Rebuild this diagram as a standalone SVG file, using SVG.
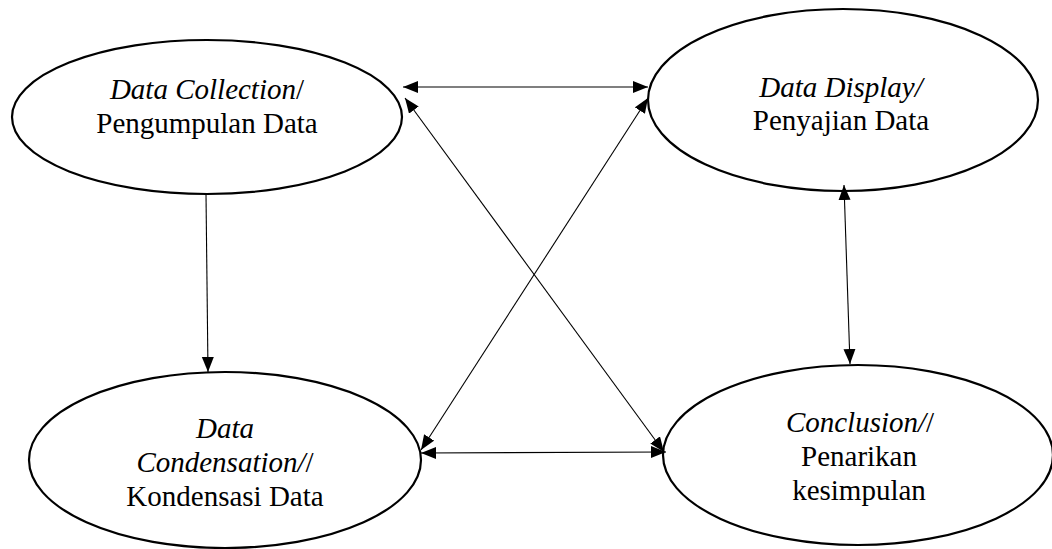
<svg xmlns="http://www.w3.org/2000/svg" width="1052" height="549" viewBox="0 0 1052 549">
<style>
.node{fill:#fff;stroke:#000;stroke-width:2.2}
.t{font-family:'Liberation Serif','Times New Roman','DejaVu Serif',serif;font-size:29px;fill:#000;text-anchor:middle}
.i{font-style:italic}
.c{stroke:#000;stroke-width:1.1;fill:none}
</style>
<defs>
<marker id="ah" markerUnits="userSpaceOnUse" markerWidth="16" markerHeight="13" refX="15" refY="6" orient="auto-start-reverse">
<path d="M0,0 L15,6 L0,12 z" fill="#000"/>
</marker>
</defs>
<g id="n-collection">
<ellipse class="node" cx="207" cy="117" rx="195" ry="77"/>
<text class="t" font-family="Liberation Serif, serif" x="207" y="99"><tspan class="i">Data Collection</tspan>/</text>
<text class="t" font-family="Liberation Serif, serif" x="207" y="133">Pengumpulan Data</text>
</g>
<g id="n-display">
<ellipse class="node" cx="843" cy="100" rx="195" ry="91"/>
<text class="t i" font-family="Liberation Serif, serif" x="841" y="97">Data Display/</text>
<text class="t" font-family="Liberation Serif, serif" x="841" y="130">Penyajian Data</text>
</g>
<g id="n-condensation">
<ellipse class="node" cx="225" cy="460" rx="196" ry="88"/>
<text class="t i" font-family="Liberation Serif, serif" x="225" y="438">Data</text>
<text class="t" font-family="Liberation Serif, serif" x="225" y="472"><tspan class="i">Condensation/</tspan>/</text>
<text class="t" font-family="Liberation Serif, serif" x="225" y="506">Kondensasi Data</text>
</g>
<g id="n-conclusion">
<ellipse class="node" cx="858" cy="455" rx="195" ry="90"/>
<text class="t" font-family="Liberation Serif, serif" x="860" y="432"><tspan class="i">Conclusion/</tspan>/</text>
<text class="t" font-family="Liberation Serif, serif" x="859" y="466">Penarikan</text>
<text class="t" font-family="Liberation Serif, serif" x="859" y="500">kesimpulan</text>
</g>
<g id="connectors">
<line class="c" x1="206" y1="194" x2="208" y2="372" marker-end="url(#ah)"/>
<line class="c" x1="403" y1="87" x2="648" y2="87" marker-start="url(#ah)" marker-end="url(#ah)"/>
<line class="c" x1="405" y1="98" x2="664" y2="452" marker-start="url(#ah)" marker-end="url(#ah)"/>
<line class="c" x1="648" y1="98" x2="421" y2="450" marker-start="url(#ah)" marker-end="url(#ah)"/>
<line class="c" x1="421" y1="453" x2="666" y2="452" marker-start="url(#ah)" marker-end="url(#ah)"/>
<line class="c" x1="844" y1="185" x2="850" y2="364" marker-start="url(#ah)" marker-end="url(#ah)"/>
</g>
</svg>
